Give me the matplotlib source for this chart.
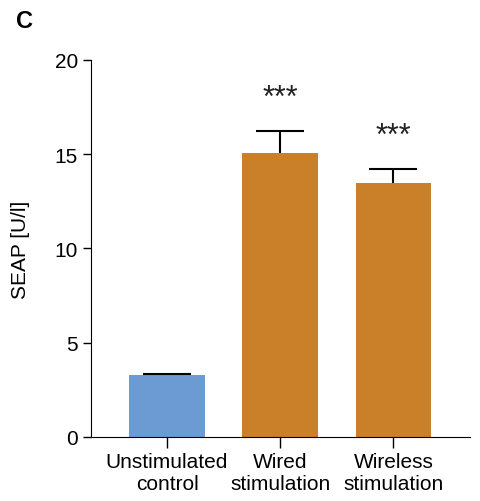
import matplotlib
matplotlib.use("Agg")
import matplotlib.pyplot as plt

plt.rcParams['font.family'] = ['Liberation Sans', 'DejaVu Sans']

# data
groups = ["Unstimulated\ncontrol", "Wired\nstimulation", "Wireless\nstimulation"]
seap = [3.29, 15.07, 13.47]
seap_err = [0.07, 1.18, 0.73]
stars = ["", "***", "***"]
star_y = [0, 17.2, 15.2]
colors = ["#6b9bd2", "#c98029", "#c98029"]

fig = plt.figure(figsize=(4.8, 5.02), dpi=100)
ax = fig.add_axes([0.19, 0.1275, 0.79, 0.751])

x_pos = [i for i, _ in enumerate(groups)]

# bars
ax.bar(x_pos, seap, width=0.67, color=colors, zorder=2)

# upper error bars only: hide the lower caps
eb = ax.errorbar(x_pos, seap, yerr=[[0] * len(seap), seap_err], fmt='none',
                 ecolor='black', elinewidth=1.5, capsize=17, capthick=1.5, zorder=3)
eb[1][0].set_visible(False)

# significance stars
for x, s, y in zip(x_pos, stars, star_y):
    if s:
        ax.text(x, y, s, ha='center', va='bottom', fontsize=22, color='#222222')

ax.set_xlim(-0.67, 2.68)
ax.set_ylim(0, 20)
ax.set_yticks([0, 5, 10, 15, 20])
ax.set_xticks(x_pos)
ax.set_xticklabels(groups, fontsize=15, linespacing=1.2)
ax.tick_params(axis='y', labelsize=15, length=6, width=1)
ax.tick_params(axis='x', length=8, width=1, pad=3)

ax.spines['top'].set_visible(False)
ax.spines['right'].set_visible(False)

ax.set_ylabel("SEAP [U/l]", fontsize=15, labelpad=18)

# panel label
fig.text(0.052, 0.957, "C", fontsize=17, fontweight='bold', ha='center', va='center')

fig.savefig("out.png", dpi=100)
